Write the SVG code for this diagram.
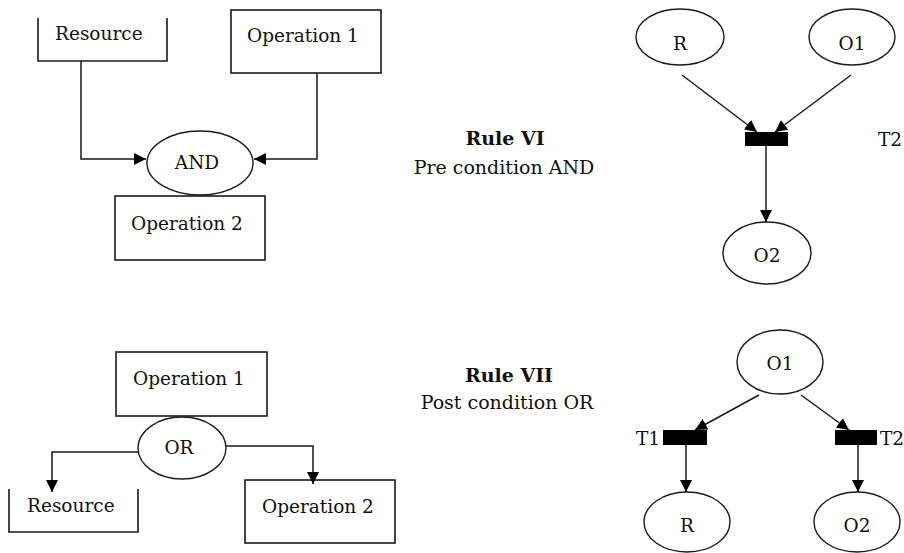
<svg xmlns="http://www.w3.org/2000/svg" width="904" height="553" viewBox="0 0 904 553">
  <style>
    .box { fill: #fff; stroke: #1a1a1a; stroke-width: 1.6; }
    .open { fill: none; stroke: #1a1a1a; stroke-width: 1.6; }
    .place { fill: #fff; stroke: #1a1a1a; stroke-width: 1.4; }
    .bar { fill: #000; }
    .edge { fill: none; stroke: #1a1a1a; stroke-width: 1.5; marker-end: url(#arrow); }
    text { font-family: "DejaVu Serif", "Liberation Serif", serif; font-size: 18.5px; fill: #111; }
    .mid { text-anchor: middle; }
    .rule { font-size: 19px; }
    .bold { font-weight: bold; }
  </style>
  <defs>
    <marker id="arrow" viewBox="0 0 10 10" refX="10" refY="5" markerWidth="12" markerHeight="12" markerUnits="userSpaceOnUse" orient="auto">
      <path d="M0,0 L10,5 L0,10 z" fill="#000"/>
    </marker>
  </defs>
  <rect width="904" height="553" fill="#fff"/>

  <!-- Rule VI: flow notation -->
  <g id="and-resource">
    <path class="open" d="M38,18 V61 H167 V18"/>
    <text x="55" y="40">Resource</text>
  </g>
  <g id="and-operation1">
    <rect class="box" x="231" y="10" width="150" height="63"/>
    <text x="247" y="42">Operation 1</text>
  </g>
  <g id="and-operation2">
    <rect class="box" x="115" y="196" width="150" height="64"/>
    <text x="131" y="230">Operation 2</text>
  </g>
  <g id="and-gate">
    <ellipse class="place" cx="200" cy="163" rx="53" ry="32"/>
    <text class="mid" x="197" y="169">AND</text>
  </g>

  <!-- Rule VI: Petri net -->
  <g id="pn6-r">
    <ellipse class="place" cx="680" cy="37" rx="44" ry="28"/>
    <text class="mid" x="680" y="50">R</text>
  </g>
  <g id="pn6-o1">
    <ellipse class="place" cx="852" cy="37" rx="43" ry="28"/>
    <text class="mid" x="852" y="50">O1</text>
  </g>
  <g id="pn6-t2">
    <rect class="bar" x="745" y="132" width="43" height="14"/>
    <text x="878" y="146">T2</text>
  </g>
  <g id="pn6-o2">
    <ellipse class="place" cx="767" cy="253" rx="44" ry="31"/>
    <text class="mid" x="767" y="262">O2</text>
  </g>

  <!-- Rule labels -->
  <g id="rule6">
    <text class="mid rule bold" x="505" y="145">Rule VI</text>
    <text class="mid rule" x="504" y="174">Pre condition AND</text>
  </g>
  <g id="rule7">
    <text class="mid rule bold" x="509" y="382">Rule VII</text>
    <text class="mid rule" x="507" y="409">Post condition OR</text>
  </g>

  <!-- Rule VII: flow notation -->
  <g id="or-operation1">
    <rect class="box" x="116" y="352" width="151" height="64"/>
    <text x="133" y="385">Operation 1</text>
  </g>
  <g id="or-gate">
    <ellipse class="place" cx="182" cy="448" rx="44" ry="31"/>
    <text class="mid" x="179" y="454">OR</text>
  </g>
  <g id="or-resource">
    <path class="open" d="M9,489 V532 H138 V489"/>
    <text x="27" y="512">Resource</text>
  </g>
  <g id="or-operation2">
    <rect class="box" x="245" y="480" width="150" height="63"/>
    <text x="262" y="513">Operation 2</text>
  </g>

  <!-- Rule VII: Petri net -->
  <g id="pn7-o1">
    <ellipse class="place" cx="780" cy="362" rx="43" ry="32"/>
    <text class="mid" x="780" y="370">O1</text>
  </g>
  <g id="pn7-t1">
    <rect class="bar" x="663" y="430" width="44" height="15"/>
    <text x="636" y="445">T1</text>
  </g>
  <g id="pn7-t2">
    <rect class="bar" x="835" y="430" width="42" height="15"/>
    <text x="880" y="445">T2</text>
  </g>
  <g id="pn7-r">
    <ellipse class="place" cx="687" cy="522" rx="43" ry="30"/>
    <text class="mid" x="687" y="532">R</text>
  </g>
  <g id="pn7-o2">
    <ellipse class="place" cx="857" cy="522" rx="43" ry="30"/>
    <text class="mid" x="857" y="532">O2</text>
  </g>

  <!-- Connectors -->
  <g id="connectors">
    <path class="edge" d="M81,61 V159 H146"/>
    <path class="edge" d="M317,73 V159 H254"/>
    <path class="edge" d="M682,75 L757,132"/>
    <path class="edge" d="M851,75 L775,132"/>
    <path class="edge" d="M766,146 V222"/>
    <path class="edge" d="M138,452 H52 V492"/>
    <path class="edge" d="M226,446 H313 V484"/>
    <path class="edge" d="M759,395 L695,430"/>
    <path class="edge" d="M801,395 L849,430"/>
    <path class="edge" d="M686,445 V492"/>
    <path class="edge" d="M858,445 V492"/>
  </g>
</svg>
